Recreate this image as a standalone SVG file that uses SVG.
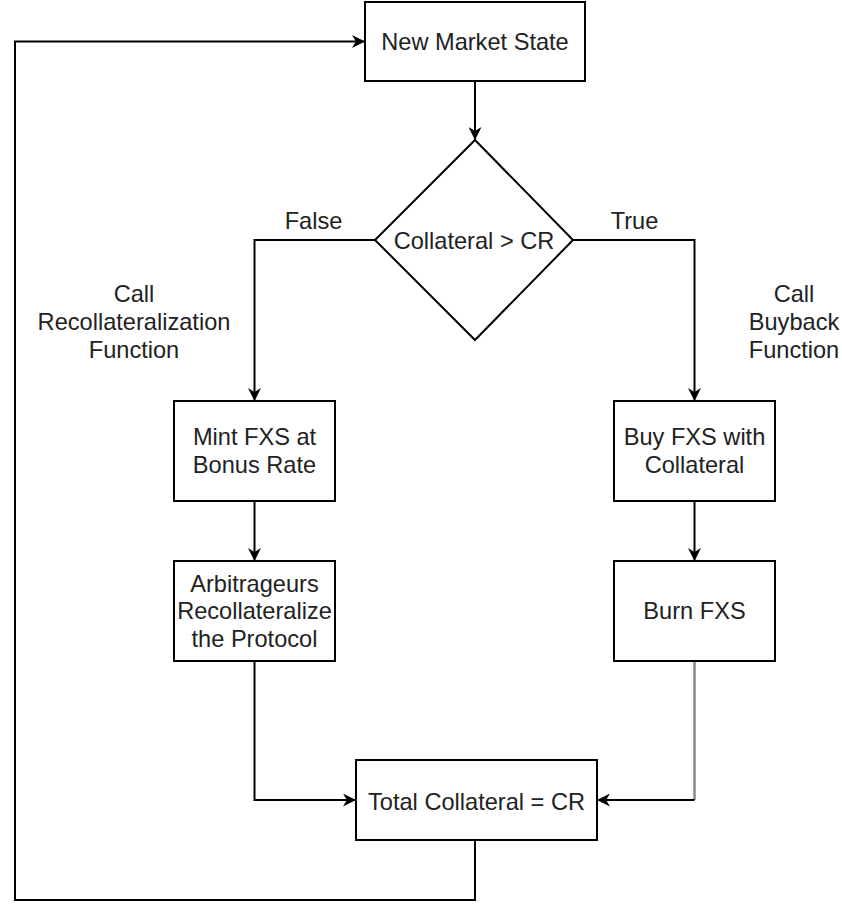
<svg xmlns="http://www.w3.org/2000/svg" width="842" height="904" viewBox="0 0 842 904">
<style>
.box{fill:#fff;stroke:#000;stroke-width:2}
.t{font-family:"Liberation Sans",Arial,sans-serif;font-size:23.6px;fill:#222;text-anchor:middle}
.c{fill:none;stroke:#000;stroke-width:2}
.g{fill:none;stroke:#888;stroke-width:2.5}
</style>
<defs>
<marker id="arr" markerUnits="userSpaceOnUse" markerWidth="13" markerHeight="13" refX="10" refY="5" orient="auto" viewBox="0 0 10 10">
<path d="M0,0 L10,5 L0,10 L3,5 z" fill="#000"/>
</marker>
</defs>
<rect width="842" height="904" fill="#fff"/>
<g id="connectors">
<path class="c" d="M475,81 V140" marker-end="url(#arr)"/>
<path class="c" d="M375,240 H254.5 V401" marker-end="url(#arr)"/>
<path class="c" d="M573,240 H694.5 V401" marker-end="url(#arr)"/>
<path class="c" d="M254.5,501 V561" marker-end="url(#arr)"/>
<path class="c" d="M694.5,501 V561" marker-end="url(#arr)"/>
<path class="c" d="M254.5,661 V800 H356" marker-end="url(#arr)"/>
<path class="g" d="M694.5,661 V800"/>
<path class="c" d="M694.5,800 H597" marker-end="url(#arr)"/>
<path class="c" d="M475,840 V900 H15 V41.5 H365" marker-end="url(#arr)"/>
</g>
<g id="edge-labels">
<text class="t" x="313.5" y="229">False</text>
<text class="t" x="634.5" y="229">True</text>
<text class="t" x="134" y="302">Call</text>
<text class="t" x="134" y="330">Recollateralization</text>
<text class="t" x="134" y="357.5">Function</text>
<text class="t" x="794" y="302">Call</text>
<text class="t" x="794" y="330">Buyback</text>
<text class="t" x="794" y="357.5">Function</text>
</g>
<g id="new-market-state">
<rect class="box" x="365" y="2" width="220" height="79"/>
<text class="t" x="475" y="50">New Market State</text>
</g>
<g id="decision">
<path class="box" d="M475,140 L573,240 L475,340 L375,240 Z"/>
<text class="t" x="474" y="249">Collateral &gt; CR</text>
</g>
<g id="mint-fxs">
<rect class="box" x="174" y="401" width="161" height="100"/>
<text class="t" x="254.5" y="445">Mint FXS at</text>
<text class="t" x="254.5" y="472.5">Bonus Rate</text>
</g>
<g id="arbitrageurs">
<rect class="box" x="174" y="561" width="161" height="100"/>
<text class="t" x="254.5" y="591.5">Arbitrageurs</text>
<text class="t" x="254.5" y="619">Recollateralize</text>
<text class="t" x="254.5" y="646.5">the Protocol</text>
</g>
<g id="buy-fxs">
<rect class="box" x="614" y="401" width="161" height="100"/>
<text class="t" x="694.5" y="445">Buy FXS with</text>
<text class="t" x="694.5" y="472.5">Collateral</text>
</g>
<g id="burn-fxs">
<rect class="box" x="614" y="561" width="161" height="100"/>
<text class="t" x="694.5" y="619">Burn FXS</text>
</g>
<g id="total-collateral">
<rect class="box" x="356" y="760" width="241" height="80"/>
<text class="t" x="476.5" y="810">Total Collateral = CR</text>
</g>
</svg>
